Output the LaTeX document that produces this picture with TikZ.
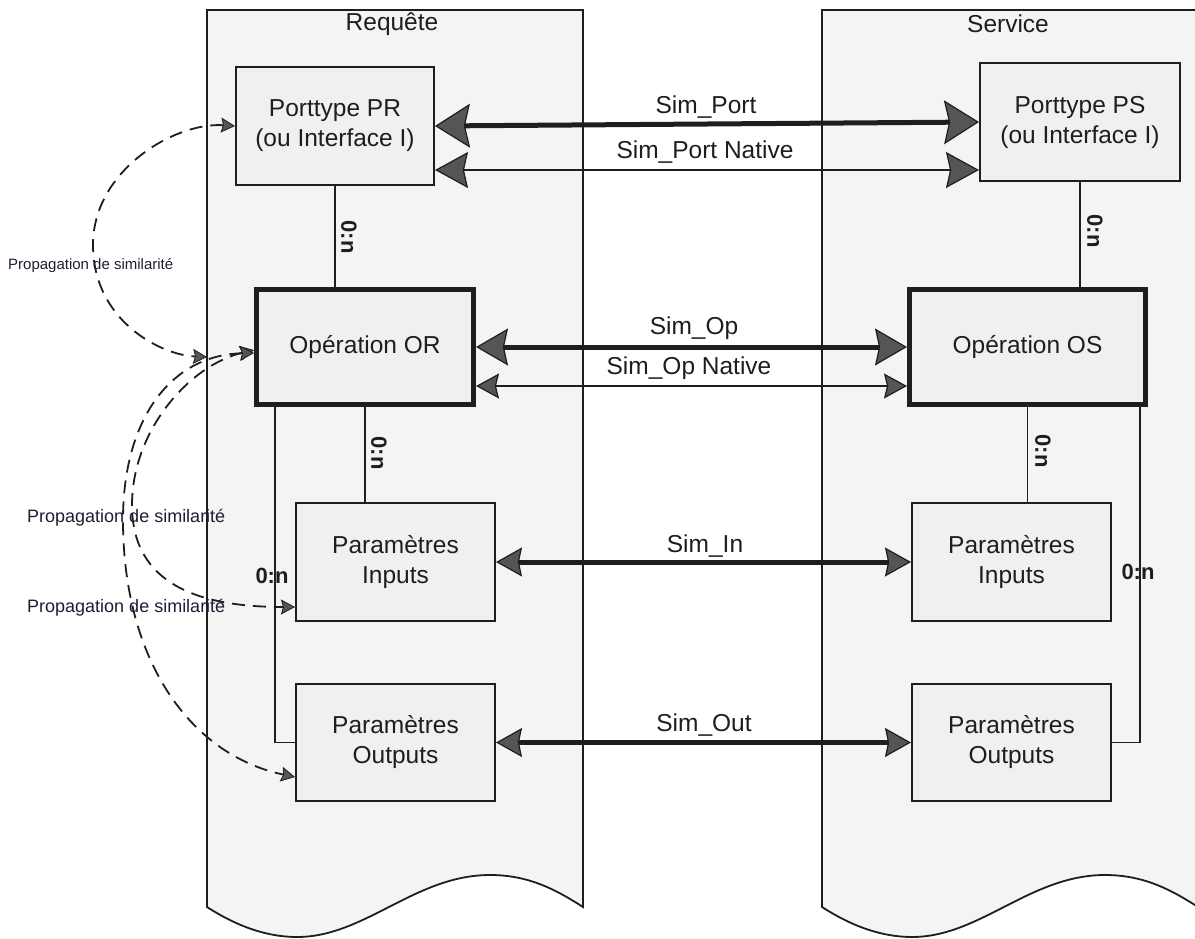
\documentclass[tikz,border=0pt]{standalone}
\usepackage{fontspec}
\setmainfont{Liberation Sans}
\usetikzlibrary{arrows.meta,calc}

\definecolor{lanefill}{HTML}{F4F4F4}
\definecolor{boxfill}{HTML}{F0F0F0}
\definecolor{ink}{HTML}{1E1E1E}
\definecolor{headfill}{HTML}{555555}
\definecolor{noteink}{HTML}{1B1F33}

\tikzset{
  porthead/.tip={Stealth[length=35pt,width=44pt,inset=5pt,fill=headfill,line width=1.2pt]},
  ophead/.tip={Stealth[length=32pt,width=37pt,inset=4pt,fill=headfill,line width=1.2pt]},
  parhead/.tip={Stealth[length=26pt,width=29pt,inset=3pt,fill=headfill,line width=1.2pt]},
  portnative/.tip={Stealth[length=33pt,width=36pt,inset=4pt,fill=headfill,line width=1.2pt]},
  opnative/.tip={Stealth[length=23pt,width=25pt,inset=3pt,fill=headfill,line width=1.2pt]},
  dashhead/.tip={Stealth[length=14pt,width=15pt,inset=2pt,fill=headfill,line width=0.8pt]},
}

\begin{document}
\begin{tikzpicture}[x=1pt,y=-1pt,
  lane/.style={draw=ink, line width=1.8pt, fill=lanefill},
  lanelabel/.style={font=\fontsize{24.5}{30}\selectfont, text=ink, inner sep=0pt},
  entity/.style={draw=ink, line width=2pt, fill=boxfill, inner sep=0pt, align=center,
                 font=\fontsize{24.5}{30}\selectfont, text=ink},
  keyentity/.style={entity, line width=5pt},
  link/.style={draw=ink, line width=1.8pt},
  simthick/.style={draw=ink, line width=5pt},
  simthin/.style={draw=ink, line width=2pt},
  simlabel/.style={font=\fontsize{24.5}{30}\selectfont, text=ink, inner sep=0pt},
  card/.style={font=\fontsize{22}{26}\bfseries\selectfont, text=ink, inner sep=0pt},
  propagation/.style={draw=ink, line width=1.8pt, dash pattern=on 13pt off 8pt},
  note/.style={text=noteink, inner sep=0pt, anchor=west},
]
\useasboundingbox (0,0) rectangle (1195,938);

% ---- swimlanes ----
\path[lane] (207,10) -- (583,10) -- (583,907)
  .. controls (555,889) and (528,875) .. (490,875)
  .. controls (415,875) and (365,937) .. (297,937)
  .. controls (265,937) and (235,925) .. (207,907) -- cycle;
\begin{scope}[xshift=615pt]
\path[lane] (207,10) -- (583,10) -- (583,907)
  .. controls (555,889) and (528,875) .. (490,875)
  .. controls (415,875) and (365,937) .. (297,937)
  .. controls (265,937) and (235,925) .. (207,907) -- cycle;
\end{scope}
\node[lanelabel] (lreq) at (392,24) {Requête};
\node[lanelabel] (lsrv) at (1008,24) {Service};

% ---- entities ----
\node[entity, minimum width=198pt, minimum height=118pt] (pr) at (335,126) {Porttype PR\\(ou Interface I)};
\node[entity, minimum width=200pt, minimum height=118pt] (ps) at (1080,122) {Porttype PS\\(ou Interface I)};
\node[keyentity, minimum width=217pt, minimum height=115pt] (or) at (365,347) {Opération OR};
\node[keyentity, minimum width=236pt, minimum height=115pt] (os) at (1027.5,347) {Opération OS};
\node[entity, minimum width=199pt, minimum height=118pt] (inl) at (395.5,562) {Paramètres\\Inputs};
\node[entity, minimum width=199pt, minimum height=118pt] (inr) at (1011.5,562) {Paramètres\\Inputs};
\node[entity, minimum width=199pt, minimum height=117pt] (outl) at (395.5,742.5) {Paramètres\\Outputs};
\node[entity, minimum width=199pt, minimum height=117pt] (outr) at (1011.5,742.5) {Paramètres\\Outputs};

% ---- composition links ----
\draw[link] (pr.south) -- (pr.south |- or.north);
\draw[link] (ps.south) -- (ps.south |- os.north);
\draw[link] (or.south) -- (or.south |- inl.north);
\draw[link] (os.south) -- (os.south |- inr.north);
\draw[link] ($(or.south west)+(21,0)$) |- (outl.west);
\draw[link] ($(os.south east)+(-8,0)$) |- (outr.east);

\node[card, rotate=-90] (c1) at (349,237) {0:n};
\node[card, rotate=-90] (c2) at (1095,231) {0:n};
\node[card, rotate=-90] (c3) at (379,453) {0:n};
\node[card, rotate=-90] (c4) at (1043,451) {0:n};
\node[card] (c5) at (272,576) {0:n};
\node[card] (c6) at (1138,572) {0:n};

% ---- similarity links ----
\draw[simthick, porthead-porthead] (pr.east) -- (ps.west);
\draw[simthin, portnative-portnative] ([yshift=-44pt]pr.east) -- ([yshift=-48pt]ps.west);
\draw[simthick, ophead-ophead] (or.east) -- (os.west);
\draw[simthin, opnative-opnative] ([yshift=-39pt]or.east) -- ([yshift=-39pt]os.west);
\draw[simthick, parhead-parhead] (inl.east) -- (inr.west);
\draw[simthick, parhead-parhead] (outl.east) -- (outr.west);

\node[simlabel] (sport) at (706,107) {Sim\_Port};
\node[simlabel] (sportn) at (705,152) {Sim\_Port Native};
\node[simlabel] (sop) at (694,328) {Sim\_Op};
\node[simlabel] (sopn) at (689,368) {Sim\_Op Native};
\node[simlabel] (sin) at (705,546) {Sim\_In};
\node[simlabel] (sout) at (704,725) {Sim\_Out};

% ---- similarity propagation ----
\node[note, font=\fontsize{15}{18}\selectfont] (p1) at (8,266) {Propagation de similarité};
\node[note, font=\fontsize{18}{22}\selectfont] (p2) at (27,518) {Propagation de similarité};
\node[note, font=\fontsize{18}{22}\selectfont] (p3) at (27,608) {Propagation de similarité};

\coordinate (lowend) at (207,357);
\draw[propagation, dashhead-dashhead] (pr.west)
  .. controls (175,122) and (93,170) .. (93,245)
  .. controls (93,320) and (160,355) .. (lowend);
\draw[propagation, dashhead-dashhead] ([yshift=-3pt]or.west)
  .. controls (190,365) and (132,430) .. (132,505)
  .. controls (132,585) and (200,607) .. ([yshift=-45pt]inl.west);
\draw[propagation, dashhead-dashhead] ([yshift=-6pt]or.west)
  .. controls (170,355) and (123,420) .. (123,520)
  .. controls (123,660) and (190,755) .. ([yshift=-34.5pt]outl.west);
\end{tikzpicture}
\end{document}
